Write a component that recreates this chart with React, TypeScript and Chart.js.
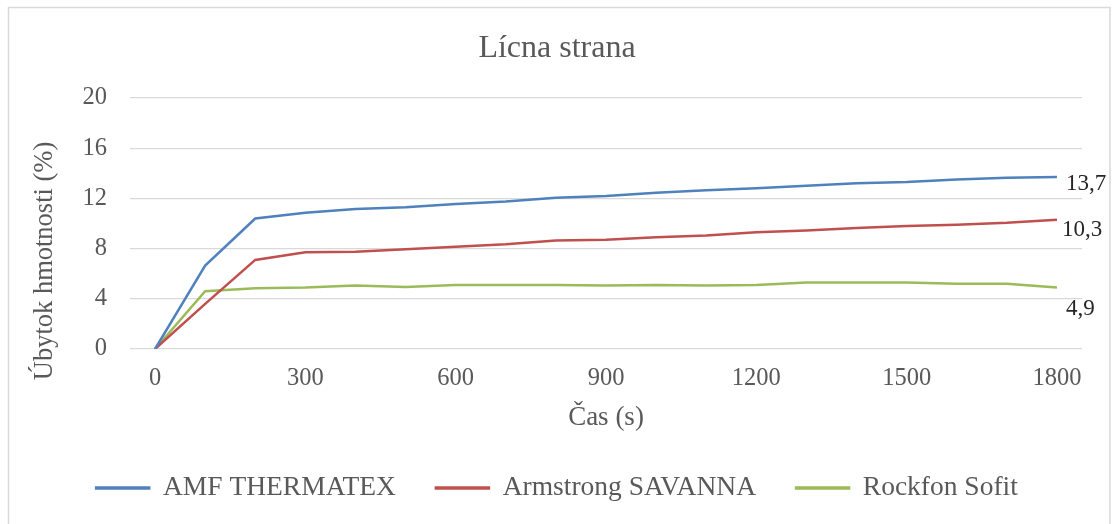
import React, { useEffect, useRef } from "react";
import { Chart, registerables } from "chart.js";

Chart.register(...registerables);

const timeLabels = ["0", "100", "200", "300", "400", "500", "600", "700", "800", "900", "1000", "1100", "1200", "1300", "1400", "1500", "1600", "1700", "1800"];
const amfThermatex = [0, 6.65, 10.4, 10.85, 11.15, 11.3, 11.55, 11.75, 12.05, 12.2, 12.45, 12.65, 12.8, 13.0, 13.2, 13.3, 13.5, 13.65, 13.7];
const armstrongSavanna = [0, 3.6, 7.1, 7.7, 7.75, 7.95, 8.15, 8.35, 8.65, 8.7, 8.9, 9.05, 9.3, 9.45, 9.65, 9.8, 9.9, 10.05, 10.3];
const rockfonSofit = [0, 4.6, 4.85, 4.9, 5.05, 4.95, 5.1, 5.1, 5.1, 5.05, 5.1, 5.05, 5.1, 5.3, 5.3, 5.3, 5.2, 5.2, 4.9];
const seriesNames = ["AMF THERMATEX", "Armstrong SAVANNA", "Rockfon Sofit"];
const seriesColors = ["#4F81BD", "#C0504D", "#9BBB59"];
const yTicks = [0, 4, 8, 12, 16, 20];
const chartTitle = "Lícna strana";
const xTitle = "Čas (s)";
const yTitle = "Úbytok hmotnosti (%)";

const FONT = "'Liberation Serif', 'Times New Roman', serif";
const TEXT = "#595959";

const framePlugin = {
  id: "frame",
  beforeDraw(chart: any) {
    const ctx = chart.ctx;
    ctx.save();
    ctx.fillStyle = "#ffffff";
    ctx.fillRect(0, 0, chart.width, chart.height);
    ctx.strokeStyle = "#d9d9d9";
    ctx.lineWidth = 1.5;
    ctx.strokeRect(8.5, 7.5, 1101.5, 700);
    ctx.restore();
  },
};

const yTitlePlugin = {
  id: "yTitle",
  afterDraw(chart: any, _args: any, opts: any) {
    const ctx = chart.ctx;
    ctx.save();
    ctx.translate(opts.x, opts.y);
    ctx.rotate(-Math.PI / 2);
    ctx.font = `26.5px ${FONT}`;
    ctx.fillStyle = TEXT;
    ctx.textAlign = "center";
    ctx.textBaseline = "middle";
    ctx.fillText(opts.text, 0, 0);
    ctx.restore();
  },
};

const endLabelPlugin = {
  id: "endLabels",
  afterDatasetsDraw(chart: any, _args: any, opts: any) {
    const ctx = chart.ctx;
    ctx.save();
    ctx.font = `23px ${FONT}`;
    ctx.fillStyle = "#262626";
    ctx.textAlign = "left";
    ctx.textBaseline = "middle";
    chart.data.datasets.forEach((ds: any, i: number) => {
      const meta = chart.getDatasetMeta(i);
      const pt = meta.data[meta.data.length - 1];
      const v = ds.data[ds.data.length - 1];
      const txt = v.toFixed(1).replace(".", ",");
      const off = opts.offsets[i];
      ctx.fillText(txt, pt.x + off[0], pt.y + off[1]);
    });
    ctx.restore();
  },
};

export default function App() {
  const ref = useRef<HTMLCanvasElement>(null);
  useEffect(() => {
    const datasets = [amfThermatex, armstrongSavanna, rockfonSofit].map((d, i) => ({
      label: seriesNames[i],
      data: d,
      borderColor: seriesColors[i],
      backgroundColor: seriesColors[i],
      borderWidth: 2.5,
      pointRadius: 0,
      tension: 0,
      yAxisID: "y",
    }));
    const chart = new Chart(ref.current as HTMLCanvasElement, {
      type: "line",
      data: { labels: timeLabels, datasets },
      plugins: [framePlugin, endLabelPlugin, yTitlePlugin],
      options: {
        animation: false,
        responsive: false,
        maintainAspectRatio: false,
        layout: { padding: { left: 0, right: 0, top: 0, bottom: 12.25 } },
        plugins: {
          tooltip: { enabled: false },
          title: {
            display: true,
            text: chartTitle,
            color: TEXT,
            font: { family: FONT, size: 32, weight: "normal", lineHeight: 1.2 },
            padding: { top: 29.8, bottom: 29.8 },
          },
          legend: {
            position: "bottom",
            labels: {
              color: TEXT,
              font: { family: FONT, size: 27.5 },
              boxWidth: 53,
              boxHeight: 1,
              padding: 40,
            },
          },
          endLabels: { offsets: [[9, 7], [5, 10], [9, 21]] },
          yTitle: { text: yTitle, x: 45, y: 261 },
        } as any,
        scales: {
          x: {
            type: "category",
            offset: true,
            grid: { display: false, drawTicks: false },
            border: { display: false },
            ticks: {
              color: TEXT,
              font: { family: FONT, size: 24.5 },
              padding: 15,
              autoSkip: false,
              maxRotation: 0,
              callback: (_v: any, i: number) => (i % 3 === 0 ? timeLabels[i] : ""),
            },
            title: {
              display: true,
              text: xTitle,
              color: TEXT,
              font: { family: FONT, size: 27 },
              padding: { top: 2, bottom: 0 },
            },
            afterFit: (s: any) => {
              s.height = 85.25;
            },
          },
          y: {
            position: "left",
            min: 0,
            max: 20,
            grid: { color: "#d9d9d9", lineWidth: 1.3, drawTicks: false },
            border: { display: false },
            afterBuildTicks: (s: any) => {
              s.ticks = yTicks.map((v) => ({ value: v }));
            },
            ticks: {
              color: TEXT,
              font: { family: FONT, size: 24.5 },
              padding: 23,
            },
            afterFit: (s: any) => {
              s.width = 130;
            },
          },
          y2: {
            position: "right",
            display: true,
            grid: { display: false, drawTicks: false },
            border: { display: false },
            ticks: { display: false },
            afterFit: (s: any) => {
              s.width = 32;
            },
          },
        },
      } as any,
    });
    return () => chart.destroy();
  }, []);
  return (
    <div style={{ position: "fixed", left: 0, top: 0, width: 1114, height: 524 }}>
      <canvas ref={ref} width={1114} height={524} style={{ display: "block", width: 1114, height: 524 }} />
    </div>
  );
}
